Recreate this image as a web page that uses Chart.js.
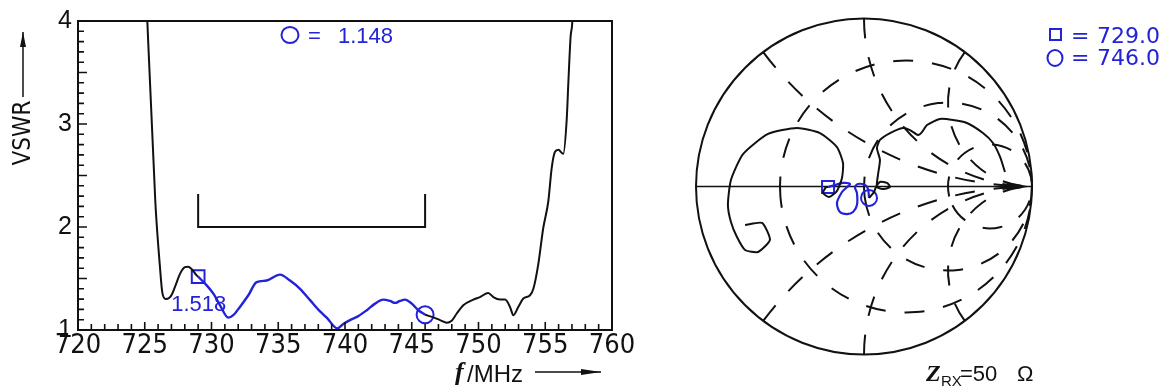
<!DOCTYPE html>
<html><head><meta charset="utf-8">
<script src="https://cdn.jsdelivr.net/npm/chart.js@4.4.1/dist/chart.umd.min.js"></script>
<style>
html,body{margin:0;padding:0;background:#fff;width:1160px;height:388px;overflow:hidden}
#l{position:absolute;left:0;top:0}
#r{position:absolute;left:660px;top:0}
</style></head><body>
<canvas id="l" width="660" height="388"></canvas>
<canvas id="r" width="500" height="388"></canvas>
<script>
// ---------------- VSWR plot data ----------------
const xTickValues = [720, 725, 730, 735, 740, 745, 750, 755, 760];
const yTickValues = [1, 2, 3, 4];
const freqLow = [725.0, 725.79, 726.14, 726.32, 726.57, 726.82, 727.05, 727.3, 727.64, 728.01, 728.26, 728.52, 728.89, 729.0];
const vswrLow = [4.6, 2.25, 1.61, 1.36, 1.30, 1.31, 1.35, 1.43, 1.545, 1.61, 1.615, 1.59, 1.53, 1.518];
const freqBand = [729.0, 729.64, 730.14, 730.64, 731.26, 731.63, 732.13, 732.76, 733.38, 734.13, 735.13, 735.88, 736.63, 737.38, 738.13, 738.63, 739.43, 739.87, 740.37, 741.0, 741.63, 742.25, 742.87, 743.37, 743.75, 744.12, 744.49, 745.0, 745.49, 746.0];
const vswrBand = [1.518, 1.433, 1.353, 1.24, 1.12, 1.144, 1.224, 1.337, 1.465, 1.48, 1.538, 1.48, 1.40, 1.29, 1.18, 1.12, 1.016, 1.058, 1.096, 1.135, 1.192, 1.256, 1.295, 1.282, 1.263, 1.282, 1.295, 1.256, 1.192, 1.148];
const freqHigh = [746.0, 746.62, 747.12, 747.62, 747.99, 748.37, 748.86, 749.61, 750.11, 750.73, 751.11, 751.61, 751.99, 752.36, 752.61, 752.98, 753.36, 753.86, 754.11, 754.48, 754.85, 755.23, 755.48, 755.73, 755.98, 756.35, 756.61, 756.73, 756.9, 757.03, 757.15];
const vswrHigh = [1.148, 1.122, 1.096, 1.07, 1.09, 1.16, 1.24, 1.295, 1.32, 1.36, 1.32, 1.295, 1.295, 1.224, 1.144, 1.224, 1.305, 1.337, 1.40, 1.64, 1.99, 2.25, 2.57, 2.73, 2.75, 2.71, 3.05, 3.40, 3.85, 4.0, 4.5];
const specFreq = [729, 729, 746, 746];
const specVswr = [2.32, 2.0, 2.0, 2.32];
const markerFreq = [729.0, 746.0];
const markerVswr = [1.518, 1.148];

// ---------------- Smith chart data (reflection coefficient) ----------------
const smithR = [1 / 3, 1, 3];
const smithX = [0.5, 1, 2, -0.5, -1, -2];
const gammaLowRe = [-0.708, -0.607, -0.560, -0.631, -0.708, -0.756, -0.792, -0.810, -0.792, -0.720, -0.571, -0.399, -0.262, -0.161, -0.125, -0.131, -0.161, -0.208, -0.244, -0.226, -0.214];
const gammaLowIm = [-0.229, -0.217, -0.318, -0.390, -0.378, -0.301, -0.211, -0.110, 0.039, 0.193, 0.313, 0.348, 0.318, 0.235, 0.140, 0.051, -0.027, -0.063, -0.039, -0.003, -0.003];
const gammaBandRe = [-0.214, -0.173, -0.125, -0.083, -0.107, -0.131, -0.161, -0.143, -0.101, -0.065, -0.042, -0.042, -0.054, -0.036, 0.006, 0.024, 0.030];
const gammaBandIm = [-0.003, 0.009, 0.021, 0.015, -0.009, -0.033, -0.098, -0.152, -0.164, -0.152, -0.110, -0.039, -0.003, 0.015, 0.009, -0.015, -0.068];
const gammaHighRe = [0.030, 0.060, 0.071, 0.095, 0.137, 0.155, 0.119, 0.077, 0.083, 0.095, 0.077, 0.095, 0.155, 0.232, 0.274, 0.321, 0.345, 0.375, 0.452, 0.530, 0.613, 0.708, 0.768, 0.810, 0.839];
const gammaHighIm = [-0.068, -0.033, -0.003, 0.027, 0.021, -0.003, -0.015, -0.003, 0.068, 0.158, 0.229, 0.277, 0.318, 0.348, 0.336, 0.307, 0.324, 0.366, 0.402, 0.396, 0.378, 0.318, 0.259, 0.176, 0.086];
const refImpedance = 50;

// ---------------- styling ----------------
const BLACK = '#111111';
const BLUE = '#2222d8';
const NARROW = "'Liberation Sans Narrow','DejaVu Sans Condensed',sans-serif";
const SANS = "'Liberation Sans',Arial,sans-serif";
const DEJA = "'DejaVu Sans',sans-serif";
const pts = (xs, ys) => xs.map((x, i) => ({ x: x, y: ys[i] }));

function arrowLine(ctx, x1, y1, x2, y2, head, half) {
  ctx.beginPath(); ctx.moveTo(x1, y1); ctx.lineTo(x2, y2); ctx.stroke();
  const ang = Math.atan2(y2 - y1, x2 - x1);
  const bx = x2 - head * Math.cos(ang), by = y2 - head * Math.sin(ang);
  ctx.beginPath();
  ctx.moveTo(x2, y2);
  ctx.lineTo(bx - half * Math.sin(ang), by + half * Math.cos(ang));
  ctx.lineTo(bx + half * Math.sin(ang), by - half * Math.cos(ang));
  ctx.closePath(); ctx.fill();
}

const leftDecor = {
  id: 'leftDecor',
  afterDraw(chart) {
    const { ctx, chartArea: a, scales: { x, y } } = chart;
    ctx.save();
    ctx.strokeStyle = BLACK; ctx.fillStyle = BLACK;
    ctx.lineWidth = 2;
    ctx.strokeRect(a.left, a.top, a.right - a.left, a.bottom - a.top);
    ctx.lineWidth = 1.6;
    ctx.beginPath();
    for (let f = x.min; f <= x.max; f += 1) {
      const p = x.getPixelForValue(f);
      const len = (f % 5 === 0) ? 8 : 6;
      ctx.moveTo(p, a.bottom); ctx.lineTo(p, a.bottom - len);
    }
    for (let i = 0; i <= (y.max - y.min) * 10; i++) {
      const p = y.getPixelForValue(y.min + i / 10);
      const len = (i % 5 === 0) ? 9 : 6;
      ctx.moveTo(a.left, p); ctx.lineTo(a.left + len, p);
    }
    ctx.stroke();
    ctx.save();
    ctx.translate(23, 133);
    ctx.rotate(-Math.PI / 2);
    ctx.font = '24px ' + NARROW;
    ctx.textAlign = 'center'; ctx.textBaseline = 'middle';
    ctx.fillText('VSWR', 0, 1);
    ctx.lineWidth = 1.5;
    arrowLine(ctx, 36, 0, 101, 0, 15, 3);
    ctx.restore();
    ctx.textBaseline = 'alphabetic'; ctx.textAlign = 'left';
    ctx.font = 'italic bold 26px "Liberation Serif",serif';
    ctx.fillText('f', 455, 380);
    ctx.font = '24px ' + SANS;
    ctx.fillText('/MHz', 467, 382);
    ctx.lineWidth = 1.5;
    arrowLine(ctx, 535, 372, 601, 372, 20, 3);
    ctx.fillStyle = BLUE; ctx.strokeStyle = BLUE; ctx.lineWidth = 2;
    ctx.beginPath(); ctx.ellipse(290, 35, 8.5, 8, 0, 0, Math.PI * 2); ctx.stroke();
    ctx.font = '22px ' + SANS;
    ctx.fillText('=', 308, 43);
    ctx.fillText(markerVswr[1].toFixed(3), 338, 43);
    const mx = x.getPixelForValue(markerFreq[0]), my = y.getPixelForValue(markerVswr[0]);
    ctx.fillText(markerVswr[0].toFixed(3), mx - 27, my + 34);
    ctx.restore();
  }
};

new Chart(document.getElementById('l'), {
  type: 'line',
  data: {
    datasets: [
      { data: pts(freqLow, vswrLow), borderColor: BLACK, borderWidth: 2, pointRadius: 0, cubicInterpolationMode: 'monotone' },
      { data: pts(freqHigh, vswrHigh), borderColor: BLACK, borderWidth: 2, pointRadius: 0, cubicInterpolationMode: 'monotone' },
      { data: pts(specFreq, specVswr), borderColor: BLACK, borderWidth: 2, pointRadius: 0, tension: 0 },
      { data: pts(freqBand, vswrBand), borderColor: BLUE, borderWidth: 2.4, pointRadius: 0, cubicInterpolationMode: 'monotone' },
      { data: [{ x: markerFreq[0], y: markerVswr[0] }], showLine: false, pointStyle: 'rect', pointRadius: 9, borderColor: BLUE, borderWidth: 2, backgroundColor: 'rgba(0,0,0,0)' },
      { data: [{ x: markerFreq[1], y: markerVswr[1] }], showLine: false, pointStyle: 'circle', pointRadius: 8.5, borderColor: BLUE, borderWidth: 2, backgroundColor: 'rgba(0,0,0,0)' }
    ]
  },
  options: {
    responsive: false, animation: false, events: [],
    layout: { padding: { left: 0, top: 18, right: 48, bottom: 0 } },
    plugins: { legend: { display: false }, tooltip: { enabled: false } },
    scales: {
      x: {
        type: 'linear', min: xTickValues[0], max: xTickValues[xTickValues.length - 1],
        afterBuildTicks: s => { s.ticks = xTickValues.map(v => ({ value: v })); },
        afterFit: s => { s.height = 58; },
        grid: { display: false, drawTicks: false }, border: { display: false },
        ticks: { font: { family: NARROW, size: 27 }, color: BLACK, padding: 0, maxRotation: 0, autoSkip: false }
      },
      y: {
        type: 'linear', min: yTickValues[0], max: yTickValues[yTickValues.length - 1],
        afterBuildTicks: s => { s.ticks = yTickValues.map(v => ({ value: v })); },
        afterFit: s => { s.width = 78; },
        grid: { display: false, drawTicks: false }, border: { display: false },
        ticks: { font: { family: SANS, size: 25 }, color: BLACK, padding: 6 }
      }
    }
  },
  plugins: [leftDecor]
});

// ---------------- Smith chart ----------------
const smithGrid = {
  id: 'smithGrid',
  beforeDatasetsDraw(chart) {
    const { ctx, scales: { x: xs, y: ys } } = chart;
    const px = v => xs.getPixelForValue(v), py = v => ys.getPixelForValue(v);
    const unit = px(1) - px(0);
    const cx0 = px(0), cy0 = py(0);
    ctx.save();
    ctx.strokeStyle = BLACK; ctx.fillStyle = BLACK;
    ctx.lineWidth = 2;
    ctx.setLineDash([20, 19]);
    smithR.forEach(r => {
      const c = r / (1 + r), rad = unit / (1 + r);
      const st = Math.PI - 10 / rad;
      ctx.beginPath(); ctx.arc(px(c), cy0, rad, st, st + Math.PI * 2); ctx.stroke();
    });
    smithX.forEach(xv => {
      const cX = px(1), cY = py(1 / xv), R = unit / Math.abs(xv);
      const pRe = (xv * xv - 1) / (xv * xv + 1), pIm = 2 * xv / (xv * xv + 1);
      const a1 = Math.atan2(py(pIm) - cY, px(pRe) - cX);
      const a2 = Math.atan2(cy0 - cY, px(1) - cX);
      ctx.beginPath(); ctx.arc(cX, cY, R, a1, a2, xv > 0); ctx.stroke();
    });
    ctx.setLineDash([]);
    ctx.beginPath(); ctx.arc(cx0, cy0, unit, 0, Math.PI * 2); ctx.stroke();
    ctx.lineWidth = 1.6;
    ctx.beginPath(); ctx.moveTo(px(-1), cy0); ctx.lineTo(px(1), cy0); ctx.stroke();
    ctx.beginPath();
    ctx.moveTo(px(0.99), cy0); ctx.lineTo(px(0.85), cy0 - 4); ctx.lineTo(px(0.85), cy0 + 4);
    ctx.closePath(); ctx.fill();
    ctx.restore();
  },
  afterDraw(chart) {
    const { ctx } = chart;
    ctx.save();
    ctx.fillStyle = BLUE; ctx.strokeStyle = BLUE; ctx.lineWidth = 2;
    ctx.strokeRect(390, 29, 11, 11);
    ctx.beginPath(); ctx.ellipse(395, 58, 7.5, 8, 0, 0, Math.PI * 2); ctx.stroke();
    ctx.font = '22px ' + DEJA;
    ctx.textBaseline = 'alphabetic';
    ctx.fillText('=', 411, 43);
    ctx.fillText(markerFreq[0].toFixed(1), 437, 43);
    ctx.fillText('=', 411, 65);
    ctx.fillText(markerFreq[1].toFixed(1), 437, 65);
    ctx.fillStyle = BLACK;
    ctx.font = 'italic bold 24px "Liberation Serif",serif';
    ctx.fillText('Z', 266, 381);
    ctx.font = '15px ' + SANS;
    ctx.fillText('RX', 281, 386);
    ctx.font = '22px ' + SANS;
    ctx.fillText('=' + refImpedance, 300, 381);
    ctx.fillText('\u03A9', 357, 381);
    ctx.restore();
  }
};

new Chart(document.getElementById('r'), {
  type: 'scatter',
  data: {
    datasets: [
      { data: pts(gammaLowRe, gammaLowIm), showLine: true, borderColor: BLACK, borderWidth: 2, pointRadius: 0, tension: 0.2 },
      { data: pts(gammaHighRe, gammaHighIm), showLine: true, borderColor: BLACK, borderWidth: 2, pointRadius: 0, tension: 0.2 },
      { data: pts(gammaBandRe, gammaBandIm), showLine: true, borderColor: BLUE, borderWidth: 2.2, pointRadius: 0, tension: 0.3 },
      { data: [{ x: gammaBandRe[0], y: gammaBandIm[0] }], pointStyle: 'rect', pointRadius: 8.5, borderColor: BLUE, borderWidth: 2, backgroundColor: 'rgba(0,0,0,0)' },
      { data: [{ x: gammaBandRe[gammaBandRe.length - 1], y: gammaBandIm[gammaBandIm.length - 1] }], pointStyle: 'circle', pointRadius: 8, borderColor: BLUE, borderWidth: 2, backgroundColor: 'rgba(0,0,0,0)' }
    ]
  },
  options: {
    responsive: false, animation: false, events: [],
    layout: { padding: { left: 36, right: 128, top: 18.5, bottom: 33.5 } },
    plugins: { legend: { display: false }, tooltip: { enabled: false } },
    scales: {
      x: { type: 'linear', min: -1, max: 1, display: false },
      y: { type: 'linear', min: -1, max: 1, display: false }
    }
  },
  plugins: [smithGrid]
});
</script>
</body></html>
